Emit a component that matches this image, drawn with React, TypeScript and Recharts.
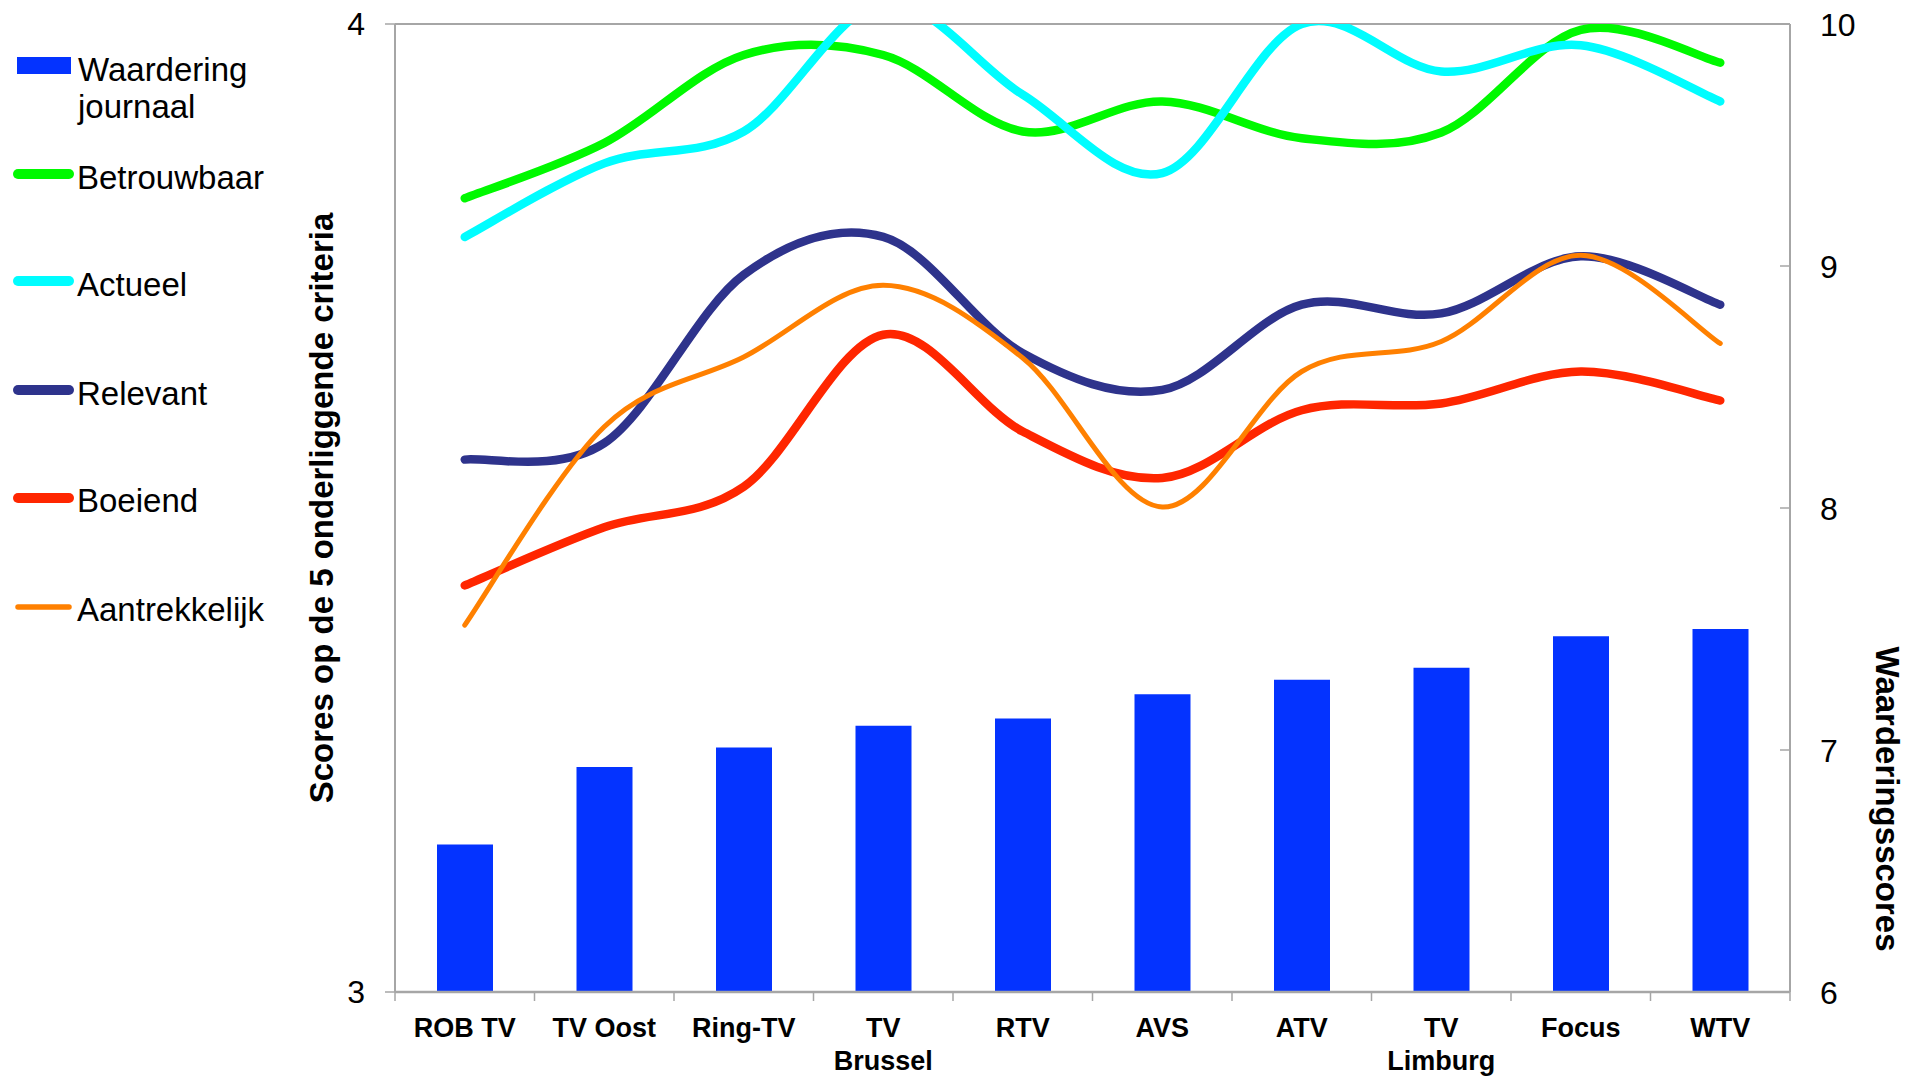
import { ComposedChart, Bar, Line, XAxis, YAxis, CartesianGrid } from 'recharts'

const CATEGORIES = ['ROB TV', 'TV Oost', 'Ring-TV', 'TV Brussel', 'RTV', 'AVS', 'ATV', 'TV Limburg', 'Focus', 'WTV']
const TICK_LINES = [['ROB TV'], ['TV Oost'], ['Ring-TV'], ['TV', 'Brussel'], ['RTV'], ['AVS'], ['ATV'], ['TV', 'Limburg'], ['Focus'], ['WTV']]

// right axis (Waarderingsscores)
const WAARDERING = [6.61, 6.93, 7.01, 7.10, 7.13, 7.23, 7.29, 7.34, 7.47, 7.50]
// left axis (criteria)
const BETROUWBAAR = [3.820, 3.877, 3.968, 3.968, 3.889, 3.920, 3.882, 3.888, 3.994, 3.960]
const ACTUEEL = [3.780, 3.856, 3.889, 4.022, 3.927, 3.846, 4.000, 3.951, 3.978, 3.920]
const RELEVANT = [3.550, 3.567, 3.741, 3.780, 3.660, 3.622, 3.710, 3.701, 3.760, 3.710]
const BOEIEND = [3.420, 3.480, 3.522, 3.679, 3.579, 3.531, 3.601, 3.608, 3.641, 3.611]
const AANTREKKELIJK = [3.379, 3.584, 3.656, 3.730, 3.655, 3.501, 3.641, 3.672, 3.761, 3.670]

const LEFT_TICKS = [3, 4]
const RIGHT_TICKS = [6, 7, 8, 9, 10]

const FONT = '"Liberation Sans", Arial, Helvetica, sans-serif'
const AXIS_GRAY = '#a6a6a6'
const BAR_COLOR = '#0433ff'

const SERIES = [
  { key: 'betrouwbaar', label: 'Betrouwbaar', color: '#00f900', width: 8.5, values: BETROUWBAAR },
  { key: 'actueel', label: 'Actueel', color: '#00fdff', width: 8.5, values: ACTUEEL },
  { key: 'relevant', label: 'Relevant', color: '#2e338c', width: 8.5, values: RELEVANT },
  { key: 'boeiend', label: 'Boeiend', color: '#ff2600', width: 8.5, values: BOEIEND },
  { key: 'aantrekkelijk', label: 'Aantrekkelijk', color: '#ff8000', width: 5, values: AANTREKKELIJK },
]

const data = CATEGORIES.map((name, i) => {
  const row: Record<string, string | number> = { name, waardering: WAARDERING[i] }
  SERIES.forEach(s => { row[s.key] = s.values[i] })
  return row
})

const W = 1906
const H = 1076
const PLOT_LEFT = 395
const PLOT_RIGHT = 1790
const PLOT_TOP = 24
const PLOT_BOTTOM = 992
const BAND = (PLOT_RIGHT - PLOT_LEFT) / CATEGORIES.length

// smoothed line like Excel (Catmull-Rom through the points)
const excelCurve = (ctx: any) => {
  let pts: number[][] = []
  return {
    areaStart() {},
    areaEnd() {},
    lineStart() { pts = [] },
    point(x: number, y: number) { pts.push([+x, +y]) },
    lineEnd() {
      if (!pts.length) return
      ctx.moveTo(pts[0][0], pts[0][1])
      for (let i = 0; i < pts.length - 1; i++) {
        const p0 = pts[Math.max(i - 1, 0)]
        const p1 = pts[i]
        const p2 = pts[i + 1]
        const p3 = pts[Math.min(i + 2, pts.length - 1)]
        ctx.bezierCurveTo(
          p1[0] + (p2[0] - p0[0]) / 6, p1[1] + (p2[1] - p0[1]) / 6,
          p2[0] - (p3[0] - p1[0]) / 6, p2[1] - (p3[1] - p1[1]) / 6,
          p2[0], p2[1],
        )
      }
    },
  }
}

function CategoryTick(props: any) {
  const { x, y, index, payload } = props
  const lines = TICK_LINES[index] ?? [payload.value]
  return (
    <g>
      <line x1={x - BAND / 2} x2={x - BAND / 2} y1={y} y2={y + 9} stroke={AXIS_GRAY} strokeWidth={1.5} />
      {index === CATEGORIES.length - 1 && (
        <line x1={x + BAND / 2} x2={x + BAND / 2} y1={y} y2={y + 9} stroke={AXIS_GRAY} strokeWidth={1.5} />
      )}
      <text x={x} y={y + 45} textAnchor="middle" fontFamily={FONT} fontWeight="bold" fontSize={27} fill="#000">
        {lines.map((l: string, i: number) => (
          <tspan key={i} x={x} dy={i === 0 ? 0 : 33}>{l}</tspan>
        ))}
      </text>
    </g>
  )
}

function RightTick(props: any) {
  const { x, y, payload } = props
  return (
    <g>
      <line x1={x - 30} x2={x - 40} y1={y} y2={y} stroke={AXIS_GRAY} strokeWidth={1.5} />
      <text x={x} y={y} dy={11.5} textAnchor="start" fontFamily={FONT} fontSize={32} fill="#000">
        {payload.value}
      </text>
    </g>
  )
}

function LegendOverlay() {
  const rows = [
    { label: 'Betrouwbaar', y: 174, ty: 189 },
    { label: 'Actueel', y: 281, ty: 296 },
    { label: 'Relevant', y: 390, ty: 405 },
    { label: 'Boeiend', y: 498, ty: 512 },
    { label: 'Aantrekkelijk', y: 607, ty: 621 },
  ]
  return (
    <svg width={W} height={H} style={{ position: 'absolute', left: 0, top: 0, pointerEvents: 'none' }}>
      <rect x={17} y={57} width={54} height={17} fill={BAR_COLOR} />
      <text x={78} y={81} fontFamily={FONT} fontSize={33} fill="#000">Waardering</text>
      <text x={78} y={118} fontFamily={FONT} fontSize={33} fill="#000">journaal</text>
      {rows.map(r => {
        const s = SERIES.find(v => v.label === r.label)!
        return (
          <g key={r.label}>
            <line x1={18} x2={69} y1={r.y} y2={r.y} stroke={s.color} strokeWidth={s.width > 6 ? 10 : 5.5} strokeLinecap="round" />
            <text x={77} y={r.ty} fontFamily={FONT} fontSize={33} fill="#000">{r.label}</text>
          </g>
        )
      })}
      <text
        transform={`translate(321, ${(PLOT_TOP + PLOT_BOTTOM) / 2}) rotate(-90)`}
        textAnchor="middle" dominantBaseline="central"
        fontFamily={FONT} fontWeight="bold" fontSize={33} fill="#000"
      >
        Scores op de 5 onderliggende criteria
      </text>
      <text
        transform="translate(1887, 799) rotate(90)"
        textAnchor="middle" dominantBaseline="central"
        fontFamily={FONT} fontWeight="bold" fontSize={33} fill="#000"
      >
        Waarderingsscores
      </text>
    </svg>
  )
}

export default function App() {
  return (
    <div style={{ position: 'absolute', left: 0, top: 0, width: W, height: H, background: '#fff' }}>
      <ComposedChart
        width={W}
        height={H}
        data={data}
        margin={{ top: PLOT_TOP, right: W - PLOT_RIGHT - 80, bottom: 0, left: PLOT_LEFT - 60 }}
        barSize={56}
      >
        <CartesianGrid yAxisId="left" horizontal vertical={false} stroke={AXIS_GRAY} strokeWidth={2} />
        <XAxis
          dataKey="name"
          height={H - PLOT_BOTTOM}
          interval={0}
          tickLine={false}
          tickSize={0}
          tickMargin={0}
          axisLine={{ stroke: AXIS_GRAY, strokeWidth: 2.5 }}
          tick={<CategoryTick />}
        />
        <YAxis
          yAxisId="left"
          width={60}
          domain={[3, 4]}
          ticks={LEFT_TICKS}
          allowDataOverflow
          tickSize={10}
          tickMargin={20}
          axisLine={{ stroke: AXIS_GRAY, strokeWidth: 2 }}
          tickLine={{ stroke: AXIS_GRAY, strokeWidth: 1.5 }}
          tick={{ fontSize: 32, fill: '#000', fontFamily: FONT }}
        />
        <YAxis
          yAxisId="right"
          orientation="right"
          width={80}
          domain={[6, 10]}
          ticks={RIGHT_TICKS}
          allowDataOverflow
          tickLine={false}
          tickSize={0}
          tickMargin={30}
          axisLine={{ stroke: AXIS_GRAY, strokeWidth: 2 }}
          tick={<RightTick />}
        />
        <Bar yAxisId="right" dataKey="waardering" fill={BAR_COLOR} isAnimationActive={false} />
        {SERIES.map(s => (
          <Line
            key={s.key}
            yAxisId="left"
            dataKey={s.key}
            type={excelCurve as any}
            stroke={s.color}
            strokeWidth={s.width}
            strokeLinecap="round"
            dot={false}
            activeDot={false}
            isAnimationActive={false}
          />
        ))}
      </ComposedChart>
      <LegendOverlay />
    </div>
  )
}
